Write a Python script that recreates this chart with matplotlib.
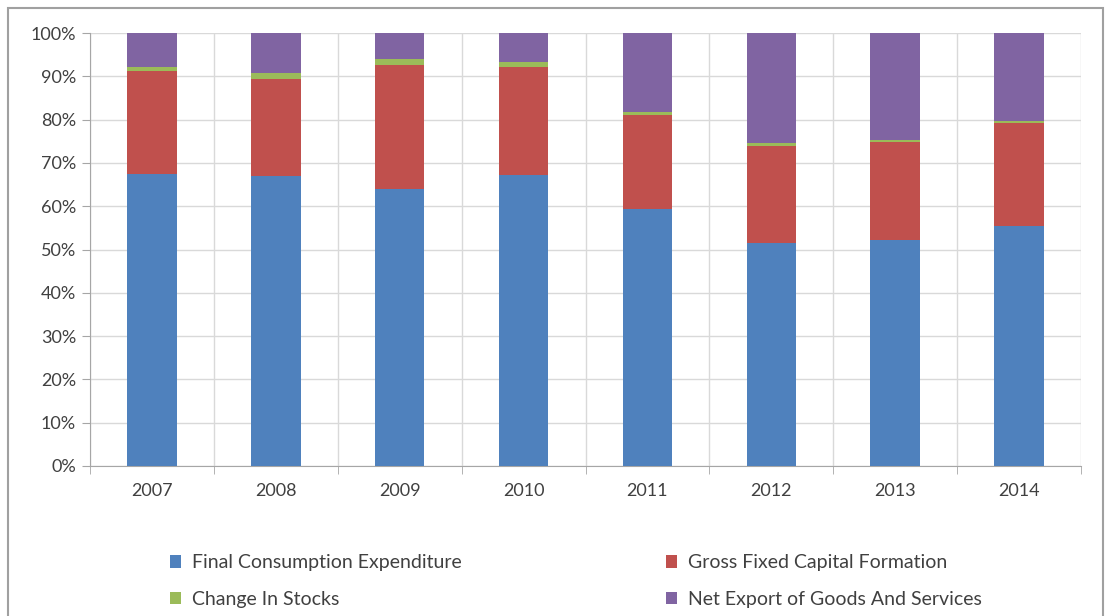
import matplotlib
matplotlib.use('Agg')
import numpy as np
import matplotlib.pyplot as plt
from matplotlib.patches import Rectangle, Patch
from matplotlib.ticker import PercentFormatter

plt.rcParams['font.family'] = ['Lato', 'DejaVu Sans']

years = ['2007', '2008', '2009', '2010', '2011', '2012', '2013', '2014']
final_consumption = [67.4, 67.0, 63.9, 67.2, 59.3, 51.4, 52.2, 55.4]
gross_fixed_capital = [23.8, 22.4, 28.8, 25.0, 21.8, 22.5, 22.7, 23.9]
change_in_stocks = [0.9, 1.3, 1.2, 1.0, 0.6, 0.6, 0.5, 0.4]
net_export = [7.9, 9.3, 6.1, 6.8, 18.3, 25.5, 24.6, 20.3]

series = [
    ('Final Consumption Expenditure', final_consumption, '#4F81BD'),
    ('Gross Fixed Capital Formation', gross_fixed_capital, '#C0504D'),
    ('Change In Stocks', change_in_stocks, '#9BBB59'),
    ('Net Export of Goods And Services', net_export, '#8064A2'),
]

W, H = 1106, 616
fig = plt.figure(figsize=(W / 100, H / 100), dpi=100)
ax = fig.add_axes([90 / W, (H - 466) / H, (1081 - 90) / W, (466 - 33) / H])

x = np.arange(len(years))
bottom = np.zeros(len(years))
handles = []
for name, vals, color in series:
    vals = np.array(vals)
    ax.bar(x, vals, 0.4, bottom=bottom, color=color, zorder=3)
    bottom += vals
    handles.append(Patch(facecolor=color, label=name))

ax.set_xlim(-0.5, len(years) - 0.5)
ax.set_ylim(0, 100)
ax.set_yticks(np.arange(0, 101, 10))
ax.yaxis.set_major_formatter(PercentFormatter(decimals=0))
ax.set_xticks(x)
ax.set_xticklabels(years)
ax.set_xticks(np.arange(-0.5, len(years), 1), minor=True)

grid_color = '#d9d9d9'
ax.grid(axis='y', color=grid_color, linewidth=1, zorder=0)
ax.grid(axis='x', which='minor', color=grid_color, linewidth=1, zorder=0)
for s in ['top', 'right']:
    ax.spines[s].set_visible(False)
for s in ['left', 'bottom']:
    ax.spines[s].set_color('#a6a6a6')
ax.tick_params(axis='x', which='major', length=0, pad=12, labelsize=13, colors='#404040')
ax.tick_params(axis='x', which='minor', length=6, color='#a6a6a6')
ax.tick_params(axis='y', length=6, color='#a6a6a6', labelsize=13, labelcolor='#404040', pad=4)

# outer frame around the whole chart
fig.patches.append(Rectangle((8 / W, -0.02), (1103 - 8) / W, (608 / H) + 0.02,
                             transform=fig.transFigure, fill=False,
                             edgecolor='#a0a0a0', linewidth=1.5))

order = [handles[0], handles[2], handles[1], handles[3]]
fig.legend(handles=order, ncol=2, frameon=False, fontsize=14,
           loc='center left', bbox_to_anchor=(152 / W, (H - 581) / H),
           handlelength=0.6, handleheight=0.6, handletextpad=0.55,
           columnspacing=10.5, labelspacing=1.0, labelcolor='#404040')

fig.savefig('out.png', dpi=100)
